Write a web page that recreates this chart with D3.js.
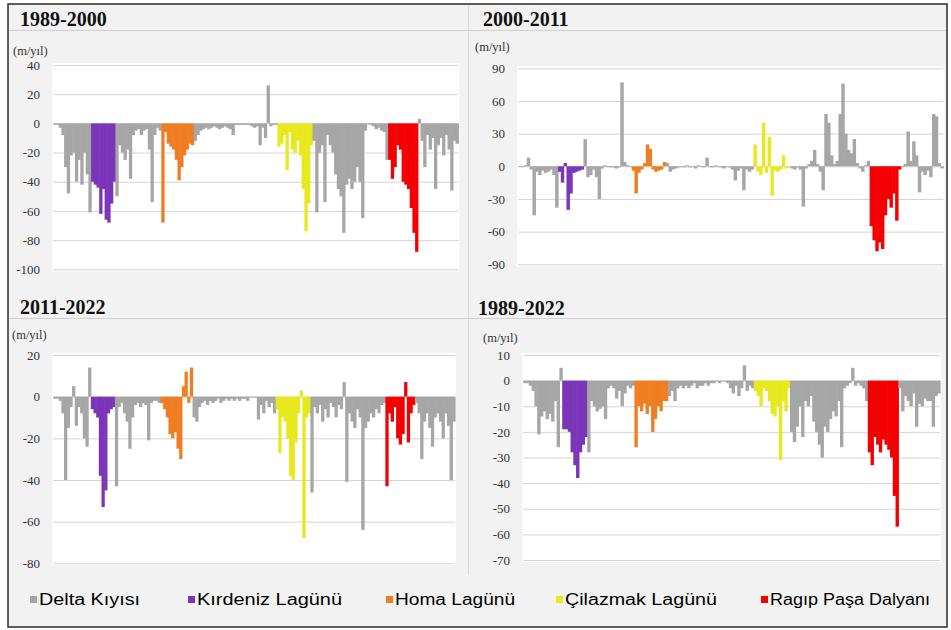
<!DOCTYPE html>
<html><head><meta charset="utf-8">
<script src="https://cdn.jsdelivr.net/npm/d3@7/dist/d3.min.js"></script>
<style>body{margin:0;background:#fff} svg{display:block}</style>
</head><body>
<svg id="c" width="951" height="630"></svg>
<script>
// ---------- DATA ----------
const categories = ["Delta Kıyısı","Kırdeniz Lagünü","Homa Lagünü","Çilazmak Lagünü","Ragıp Paşa Dalyanı"];
// runs of consecutive transects: [category index, number of transects]
const groupRuns = [[0,14],[1,9],[0,17],[2,12],[0,31],[3,13],[0,28],[4,11],[0,15]];
const periods = ["1989-2000","2000-2011","2011-2022","1989-2022"];
const unitLabel = "(m/yıl)";

const v1989_2000 = [
 -1,-1,-3,-8,-30,-48,-22,-20,-40,-25,-42,-20,-35,-61,
 -40,-42,-44,-62,-45,-66,-68,-55,-40,
 -50,-15,-20,-25,-18,-38,-8,-5,-4,-8,-5,-4,-18,-54,-8,-3,-5,
 -68,-6,-14,-16,-18,-25,-39,-30,-22,-18,-14,-15,
 -12,-8,-5,-4,-3,-4,-3,-2,-3,-4,-3,-2,-3,-4,-8,-1,-1,-1,-1,-1,-1,-2,-3,-2,-15,-3,-10,26,-2,-1,-1,
 -16,-14,-8,-32,-6,-18,-20,-12,-22,-45,-74,-55,-15,
 -12,-61,-20,-15,-54,-8,-15,-20,-35,-45,-50,-75,-42,-38,-45,-40,-30,-40,-65,-5,0,-1,-2,-4,-3,-5,-6,-25,
 -25,-38,-30,-15,-18,-40,-42,-45,-58,-75,-88,
 3,-12,-30,-8,-18,-10,-45,-15,-10,-22,-8,-18,-46,-12,-14
];
const v2000_2011 = [
 0,0,1,8,-3,-45,-5,-8,-4,-6,-5,-3,-8,-38,
 -5,-15,3,-40,-25,-6,-5,-4,-3,
 25,-10,-8,-3,-10,-30,-2,1,0,-1,-1,-2,-1,77,4,1,0,
 -4,-25,-6,-3,3,20,16,-3,-5,-4,-3,4,
 3,-5,-3,-2,-1,0,-1,1,-1,0,-2,1,0,-1,8,0,-1,1,0,-1,-2,0,-1,-3,-13,-4,-2,-22,-3,-5,-3,
 20,-5,-8,40,-6,27,-27,-4,-5,-3,10,-2,-1,
 -2,-3,-1,-3,-37,-2,2,5,15,2,-5,-22,48,40,10,2,5,48,76,30,15,12,25,3,-2,-5,1,5,
 -55,-68,-78,-70,-76,-45,-30,-38,-25,-50,-3,
 0,2,32,5,23,10,-24,-5,-8,-4,-10,48,46,3,-2
];
const v2011_2022 = [
 -1,-1,-2,-8,-40,-15,-5,5,-14,-5,-8,-20,-24,14,
 -6,-8,-10,-38,-53,-45,-8,-6,-5,
 -43,-5,-3,-8,-12,-25,-10,-4,-3,-5,-3,-4,-21,-3,-2,-2,-3,
 -3,-6,-10,-18,-20,-17,-25,-30,5,12,-3,14,
 -10,-12,-5,-3,-2,-4,-2,-3,-2,-1,-3,-2,-1,-2,-1,-2,-1,-2,-1,-1,-2,0,0,0,-11,-4,-8,-2,-5,-3,-8,
 -6,-27,-10,-12,-20,-38,-40,-22,-8,3,-68,-10,-8,
 -46,-5,-8,-4,-12,-6,-10,-3,-5,-10,-4,-6,7,-41,-8,-12,-15,-6,-10,-64,-15,-12,-8,-10,-6,-8,-4,-3,
 -43,-8,-12,-5,-20,-23,-18,7,-22,-8,-4,
 -3,-8,-30,-12,-8,-15,-24,-10,-8,-12,-20,-8,-14,-40,-12
];
const v1989_2022 = [
 -1,-1,-2,-4,-10,-21,-14,-12,-15,-13,-16,-8,-26,5,
 -19,-19,-20,-28,-33,-38,-28,-25,-22,
 -28,-8,-10,-12,-11,-10,-15,-3,-2,-3,-7,-4,-10,-5,-2,-3,-2,
 -26,-10,-12,-9,-13,-10,-20,-15,-10,-12,-8,-8,
 -6,-4,-8,-3,-2,-3,-2,-3,-2,-1,-3,-2,-2,-1,-2,-1,-1,0,-1,0,0,-1,-3,-5,-2,-6,-3,6,-4,-2,-3,
 -4,-6,-10,-3,-4,-8,-13,-14,-10,-31,-8,-12,-3,
 -20,-24,-18,-10,-22,-8,-10,-6,-16,-20,-25,-30,-18,-20,-15,-12,-14,-8,-26,-3,-2,-1,5,-2,-1,-2,-3,-8,
 -28,-33,-22,-25,-28,-23,-25,-27,-30,-45,-57,
 -3,-12,-6,-8,-10,-5,-18,-9,-10,-7,-8,-8,-18,-6,-5
];
const ticks1989_2000 = [40,20,0,-20,-40,-60,-80,-100];
const ticks2000_2011 = [90,60,30,0,-30,-60,-90];
const ticks2011_2022 = [20,0,-20,-40,-60,-80];
const ticks1989_2022 = [10,0,-10,-20,-30,-40,-50,-60,-70];

// ---------- STYLE / LAYOUT ----------
const colors = ["#a6a6a6","#7b35b8","#ef7d22","#e8e81e","#f40000"];
const groupOf = [];
groupRuns.forEach(([g,n]) => { for (let k=0;k<n;k++) groupOf.push(g); });

const svg = d3.select("#c");
svg.append("rect").attr("x",0).attr("y",0).attr("width",951).attr("height",630).attr("fill","#fff");
svg.append("rect").attr("x",8).attr("y",4).attr("width",939).attr("height",623)
   .attr("fill","#f2f2f2").attr("stroke","#2a2a2a").attr("stroke-width",1.5);
// separators
svg.append("line").attr("x1",9).attr("x2",946).attr("y1",30.5).attr("y2",30.5).attr("stroke","#cfcfcf");
svg.append("line").attr("x1",9).attr("x2",946).attr("y1",318.5).attr("y2",318.5).attr("stroke","#cfcfcf");
svg.append("line").attr("x1",468.5).attr("x2",468.5).attr("y1",5).attr("y2",575).attr("stroke","#d6d6d6");

const panels = [
 {title:periods[0], values:v1989_2000, ticks:ticks1989_2000, tx:20, ty:26, ux:13, uy:55, x0:53.3, x1:458.3, yTop:65, yBot:269.3, lx:40},
 {title:periods[1], values:v2000_2011, ticks:ticks2000_2011, tx:483, ty:26, ux:475, uy:51, x0:518.3, x1:943.3, yTop:68.3, yBot:264.3, lx:505},
 {title:periods[2], values:v2011_2022, ticks:ticks2011_2022, tx:20, ty:314, ux:12, uy:339, x0:53.3, x1:455, yTop:355, yBot:563.3, lx:40},
 {title:periods[3], values:v1989_2022, ticks:ticks1989_2022, tx:478, ty:315, ux:483, uy:342, x0:523.3, x1:940, yTop:355, yBot:560, lx:510}
];

panels.forEach(p => {
  const g = svg.append("g");
  const ext = d3.extent(p.ticks);
  const y = d3.scaleLinear().domain(ext).range([p.yBot, p.yTop]);
  const x = d3.scaleBand().domain(d3.range(p.values.length)).range([p.x0, p.x1]).padding(0);

  g.append("rect").attr("x",p.x0-1).attr("y",p.yTop-2).attr("width",p.x1-p.x0+2).attr("height",p.yBot-p.yTop+4).attr("fill","#fff");

  g.append("text").attr("x",p.tx).attr("y",p.ty).text(p.title)
    .attr("font-family","'Liberation Serif','Times New Roman',serif").attr("font-weight","bold")
    .attr("font-size",20).attr("fill","#111");
  g.append("text").attr("x",p.ux).attr("y",p.uy).text(unitLabel)
    .attr("font-family","'Liberation Serif','Times New Roman',serif").attr("font-size",12.5).attr("fill","#333");

  const yAxis = d3.axisLeft(y).tickValues(p.ticks).tickSize(-(p.x1-p.x0)).tickPadding(p.x0-p.lx).tickFormat(d3.format("d"));
  const ax = g.append("g").attr("transform",`translate(${p.x0},0)`).call(yAxis);
  ax.select(".domain").remove();
  ax.selectAll(".tick line").attr("stroke","#d4d4d4").attr("stroke-width",1);
  ax.selectAll(".tick text").attr("font-family","'Liberation Serif','Times New Roman',serif")
    .attr("font-size",13).attr("fill","#333").text(d => d < 0 ? "-" + Math.abs(d) : d);

  g.append("g").selectAll("rect").data(p.values).join("rect")
    .attr("x",(d,i)=>x(i))
    .attr("width",x.bandwidth()+0.6)
    .attr("y",d=>y(Math.max(0,d)))
    .attr("height",d=>Math.max(0.8, Math.abs(y(d)-y(0))))
    .attr("fill",(d,i)=>colors[groupOf[i]]);
});

// legend
const legX = [30,188,386,556,761];
const legW = [101,145,120,152,160];
const leg = svg.append("g");
categories.forEach((c,i) => {
  leg.append("rect").attr("x",legX[i]).attr("y",596).attr("width",7).attr("height",7).attr("fill",colors[i]);
  leg.append("text").attr("x",legX[i]+9).attr("y",605).text(c)
    .attr("font-family","'Liberation Sans Narrow','Arial Narrow','Liberation Sans',Arial,sans-serif")
    .attr("font-size",16).attr("fill","#000")
    .attr("textLength",legW[i]).attr("lengthAdjust","spacingAndGlyphs");
});
</script>
</body></html>
